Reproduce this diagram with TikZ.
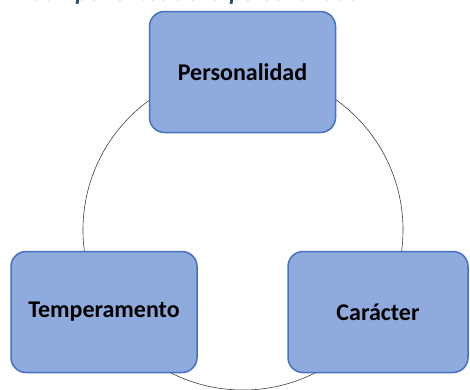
\documentclass[tikz,border=0pt]{standalone}
\usepackage{fontspec}
\setmainfont{Carlito}
\definecolor{boxfill}{HTML}{8FAADC}
\definecolor{boxline}{HTML}{4472C4}
\definecolor{titleblue}{HTML}{1F4E79}
\begin{document}
\begin{tikzpicture}[x=1pt,y=-1pt,
  comp/.style={draw=boxline, line width=1.5pt, fill=boxfill, rounded corners=15pt,
    minimum width=186pt, minimum height=121pt, inner sep=0pt,
    font=\fontsize{24}{28}\selectfont\bfseries, text=black},
  ring/.style={draw=black!75, line width=0.6pt}]
\useasboundingbox (0,0) rectangle (470,389);
\begin{scope}
\clip (0,0) rectangle (470,389);
\node[anchor=base west, inner sep=0pt, text=titleblue,
  font=\fontsize{24.5}{28}\selectfont\bfseries\itshape] (title) at (30,0.8) {Componentes de la personalidad};
\draw[ring] (243,230) circle[radius=160];
\end{scope}
\node[comp] (pers) at (242.5,72) {Personalidad};
\node[comp] (temp) at (104,312) {Temperamento};
\node[comp, minimum width=180pt] (car) at (378,312) {Carácter};
\end{tikzpicture}
\end{document}
